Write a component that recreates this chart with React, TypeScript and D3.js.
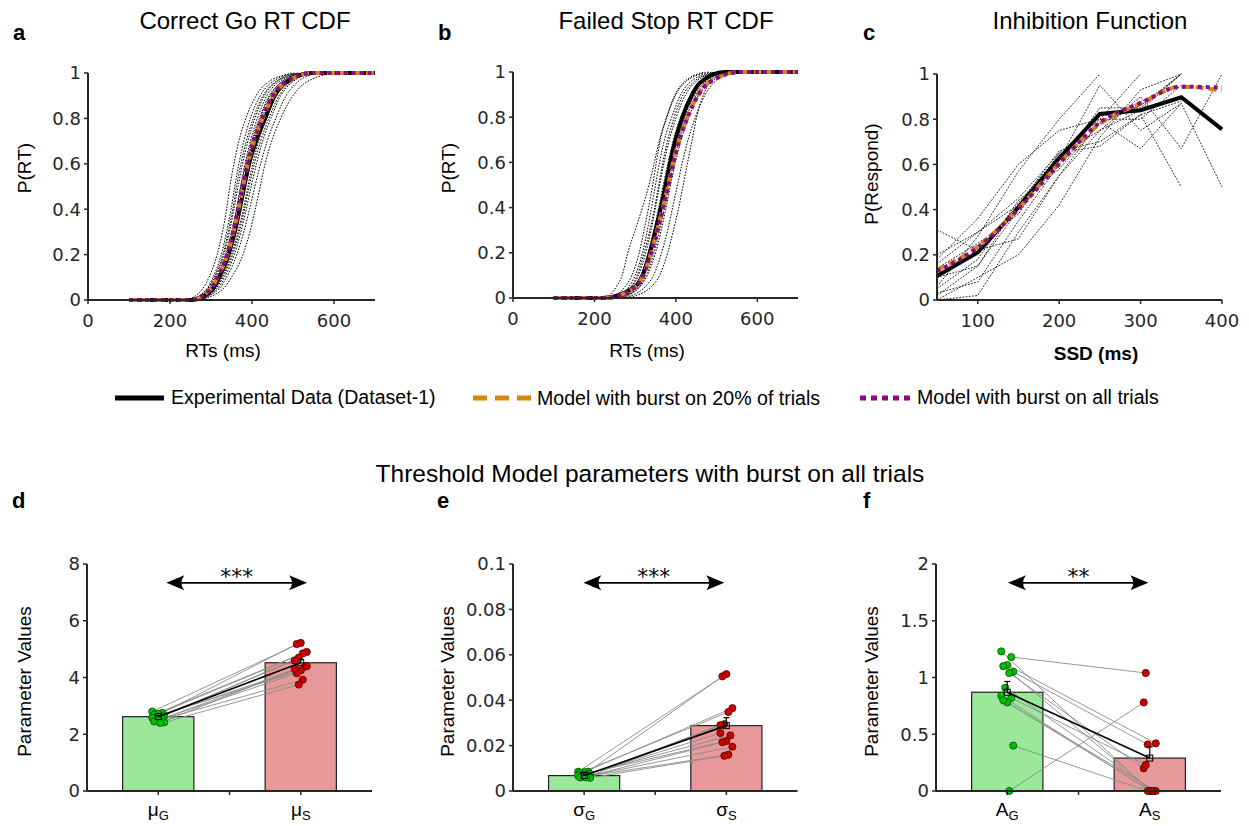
import React from 'react';
import * as d3 from 'd3';

// ---------------- DATA ----------------
// CDF panels: RT (ms) reached at each cumulative-probability level
const cdfLevels = [0, 0.05, 0.1, 0.2, 0.3, 0.4, 0.5, 0.6, 0.7, 0.8, 0.9, 0.95, 1];
const rtStart = 100;
const rtEnd = 700;

const goMeanRT = [255, 305, 320, 343, 358, 370, 381, 393, 410, 432, 455, 477, 545];
const goModel20RT = [250, 300, 316, 340, 355, 367, 378, 390, 405, 426, 452, 476, 550];
const goModelAllRT = [250, 300, 316, 339, 354, 366, 377, 389, 404, 425, 451, 475, 548];
const goSubjectsRT = [
  [240, 280, 295, 315, 328, 338, 346, 356, 368, 385, 410, 432, 500],
  [245, 290, 305, 325, 338, 349, 358, 368, 380, 396, 420, 442, 505],
  [248, 295, 310, 331, 345, 356, 366, 377, 390, 407, 430, 452, 515],
  [250, 298, 313, 335, 350, 362, 372, 383, 396, 413, 436, 458, 520],
  [252, 302, 318, 340, 355, 367, 378, 389, 402, 420, 444, 466, 525],
  [255, 306, 322, 345, 361, 373, 384, 396, 410, 428, 452, 474, 530],
  [258, 310, 327, 350, 366, 379, 390, 402, 416, 435, 460, 482, 540],
  [262, 316, 333, 357, 373, 386, 398, 411, 426, 446, 470, 492, 550],
  [265, 320, 338, 363, 380, 394, 407, 421, 437, 458, 483, 505, 560],
  [270, 330, 350, 378, 395, 408, 420, 432, 448, 470, 500, 525, 600],
  [248, 300, 316, 338, 352, 363, 373, 385, 399, 418, 442, 465, 525],
  [253, 304, 320, 342, 357, 370, 381, 392, 405, 424, 448, 470, 535],
  [244, 292, 308, 329, 342, 353, 362, 373, 386, 403, 427, 450, 512],
  [260, 312, 329, 353, 369, 382, 393, 406, 421, 441, 466, 488, 545],
];

const stopMeanRT = [220, 300, 318, 336, 350, 363, 375, 386, 399, 416, 440, 458, 520];
const stopModel20RT = [225, 302, 320, 339, 354, 368, 381, 393, 408, 428, 455, 478, 560];
const stopModelAllRT = [225, 302, 320, 339, 355, 369, 382, 394, 409, 429, 456, 479, 562];
const stopSubjectsRT = [
  [230, 254, 268, 282, 300, 318, 334, 347, 360, 377, 398, 417, 470],
  [240, 275, 292, 310, 322, 333, 343, 352, 362, 378, 400, 420, 480],
  [245, 285, 300, 318, 330, 340, 350, 360, 372, 390, 412, 432, 490],
  [250, 292, 308, 326, 339, 350, 360, 371, 384, 401, 424, 445, 500],
  [255, 298, 314, 332, 346, 358, 369, 381, 394, 412, 436, 456, 510],
  [258, 305, 322, 341, 355, 367, 378, 390, 404, 422, 446, 468, 520],
  [262, 312, 330, 350, 364, 376, 387, 399, 413, 432, 456, 478, 530],
  [270, 325, 345, 365, 380, 392, 404, 416, 430, 448, 472, 492, 545],
  [280, 340, 360, 380, 394, 407, 418, 429, 440, 451, 468, 483, 540],
  [248, 290, 305, 322, 336, 348, 358, 368, 380, 396, 418, 440, 495],
  [252, 300, 317, 336, 350, 362, 373, 385, 398, 416, 440, 462, 515],
  [260, 310, 327, 346, 360, 372, 383, 395, 408, 426, 450, 472, 525],
];

// Inhibition function
const ssdValues = [50, 100, 150, 200, 250, 300, 350, 400];
const inhibMean = [0.106, 0.21, 0.41, 0.627, 0.823, 0.84, 0.897, 0.755];
const inhibModel20 = [0.133, 0.236, 0.405, 0.605, 0.78, 0.87, 0.944, 0.926];
const inhibModelAll = [0.128, 0.232, 0.402, 0.602, 0.785, 0.872, 0.944, 0.94];
const inhibSubjects: (number | null)[][] = [
  [0.0, 0.02, 0.3, 0.55, 0.75, 0.84, 1.0, null],
  [0.02, 0.15, 0.4, 0.62, 0.95, 0.75, 0.87, 0.5],
  [0.06, 0.28, 0.57, 0.8, 1.0, null, null, null],
  [0.18, 0.36, 0.6, 0.75, 0.8, 1.0, null, null],
  [0.31, 0.22, 0.27, 0.55, 0.79, 0.67, 0.87, null],
  [0.2, 0.3, 0.45, 0.65, 0.68, 0.82, 0.5, null],
  [0.1, 0.15, 0.43, 0.64, 0.75, 0.9, 0.67, 1.0],
  [0.0, 0.1, 0.2, 0.42, 0.72, 0.93, 1.0, null],
  [0.14, 0.25, 0.38, 0.65, 0.8, 0.8, 0.95, null],
  [0.03, 0.08, 0.35, 0.6, 0.85, 0.85, 1.0, null],
  [0.16, 0.3, 0.42, 0.66, 0.7, 0.82, 0.88, null],
  [0.05, 0.18, 0.44, 0.58, 0.78, 0.86, 1.0, null],
];

// Threshold model parameters (per subject, Go / Stop)
const muG = [2.8, 2.75, 2.72, 2.7, 2.65, 2.62, 2.6, 2.58, 2.55, 2.5, 2.45, 2.42, 2.4];
const muS = [5.22, 5.18, 4.9, 4.85, 4.7, 4.6, 4.38, 4.25, 4.15, 4.4, 3.92, 3.75, 4.3];
const muBar = [2.62, 4.52];
const muSem = [0.04, 0.12];

const sigmaG = [0.0085, 0.0085, 0.0083, 0.008, 0.0075, 0.0072, 0.007, 0.0068, 0.0065, 0.0062, 0.006, 0.0058, 0.006];
const sigmaS = [0.0515, 0.0505, 0.0365, 0.0348, 0.0295, 0.0255, 0.0245, 0.022, 0.0215, 0.0195, 0.016, 0.0155, 0.029];
const sigmaBar = [0.0068, 0.0288];
const sigmaSem = [0.0003, 0.0035];

const aG = [1.23, 1.18, 1.11, 1.1, 1.05, 1.04, 0.91, 0.84, 0.82, 0.78, 0.8, 0.4, 0.0];
const aS = [0.0, 1.04, 0.42, 0.0, 0.41, 0.2, 0.0, 0.0, 0.23, 0.0, 0.0, 0.0, 0.78];
const aBar = [0.87, 0.29];
const aSem = [0.095, 0.1];

const probTicks = [0, 0.2, 0.4, 0.6, 0.8, 1];
const rtTicks = [0, 200, 400, 600];
const ssdTicks = [100, 200, 300, 400];
const muTicks = [0, 2, 4, 6, 8];
const sigmaTicks = [0, 0.02, 0.04, 0.06, 0.08, 0.1];
const aTicks = [0, 0.5, 1, 1.5, 2];

const legendLabels = [
  'Experimental Data (Dataset-1)',
  'Model with burst on 20% of trials',
  'Model with burst on all trials',
];

// ---------------- STYLE ----------------
const AX = '#262626';
const TICKFONT = 'DejaVu Sans, Verdana, sans-serif';
const LABFONT = 'Liberation Sans, Arial, Helvetica, sans-serif';
const ORANGE = '#D2880A';
const PURPLE = '#8A0A8A';
const GREEN_BAR = '#9BE89A';
const RED_BAR = '#E89898';

const fmt = (v: number) => String(+v.toFixed(3));

type Pt = [number, number | null];

function Axes({ x, y, xTicks, yTicks }: any) {
  const [x0, x1] = x.range();
  const [yb, yt] = y.range();
  return (
    <g>
      <line x1={x0} x2={x1} y1={yb} y2={yb} stroke={AX} strokeWidth={2} />
      <line x1={x0} x2={x0} y1={yb} y2={yt} stroke={AX} strokeWidth={2} />
      {xTicks.map((t: number) => (
        <g key={'x' + t}>
          <line x1={x(t)} x2={x(t)} y1={yb} y2={yb + 4} stroke={AX} strokeWidth={1.5} />
          <text x={x(t)} y={yb + 27} textAnchor="middle" fontFamily={TICKFONT} fontSize={18} fill={AX}>
            {fmt(t)}
          </text>
        </g>
      ))}
      {yTicks.map((t: number) => (
        <g key={'y' + t}>
          <line x1={x0 - 4} x2={x0} y1={y(t)} y2={y(t)} stroke={AX} strokeWidth={1.5} />
          <text x={x0 - 7} y={y(t)} dy="0.36em" textAnchor="end" fontFamily={TICKFONT} fontSize={18} fill={AX}>
            {fmt(t)}
          </text>
        </g>
      ))}
    </g>
  );
}

function CdfPanel({ box, mean, m20, mAll, subjects, title, titleX, letter, letterX, yLabX, yLabY, xLabX }: any) {
  const x = d3.scaleLinear().domain([0, 700]).range([box[0], box[1]]);
  const y = d3.scaleLinear().domain([0, 1]).range([box[3], box[2]]);
  const line = d3
    .line<[number, number]>()
    .x((d) => x(d[0]))
    .y((d) => y(d[1]))
    .curve(d3.curveMonotoneX);
  const toPts = (rts: number[]) => cdfLevels.map((p, i) => [rts[i], p] as [number, number]);
  const full = (rts: number[]) => [[rtStart, 0] as [number, number], ...toPts(rts), [rtEnd, 1] as [number, number]];
  return (
    <g>
      <text x={titleX} y={29} textAnchor="middle" fontFamily={LABFONT} fontSize={24} fill="#000">
        {title}
      </text>
      <text x={letterX} y={40} fontFamily={LABFONT} fontSize={22} fontWeight="bold" fill="#000">
        {letter}
      </text>
      {subjects.map((s: number[], i: number) => (
        <path key={i} d={line(toPts(s)) || ''} fill="none" stroke="#000" strokeWidth={1} strokeDasharray="1.6,1.4" />
      ))}
      <path d={line(full(mean)) || ''} fill="none" stroke="#000" strokeWidth={4} />
      <path d={line(full(m20)) || ''} fill="none" stroke={ORANGE} strokeWidth={4} strokeDasharray="8,5" />
      <path d={line(full(mAll)) || ''} fill="none" stroke={PURPLE} strokeWidth={4} strokeDasharray="4,4" />
      <Axes x={x} y={y} xTicks={rtTicks} yTicks={probTicks} />
      <text
        transform={`translate(${yLabX},${yLabY}) rotate(-90)`}
        textAnchor="middle"
        dy="0.35em"
        fontFamily={LABFONT}
        fontSize={19}
        fill="#000"
      >
        P(RT)
      </text>
      <text x={xLabX} y={357} textAnchor="middle" fontFamily={LABFONT} fontSize={19} fill="#000">
        RTs (ms)
      </text>
    </g>
  );
}

function InhibPanel() {
  const box = [937, 1222, 74, 300];
  const x = d3.scaleLinear().domain([50, 400]).range([box[0], box[1]]);
  const y = d3.scaleLinear().domain([0, 1]).range([box[3], box[2]]);
  const lin = d3
    .line<Pt>()
    .defined((d) => d[1] != null)
    .x((d) => x(d[0]))
    .y((d) => y(d[1] as number));
  const smooth = d3
    .line<Pt>()
    .x((d) => x(d[0]))
    .y((d) => y(d[1] as number))
    .curve(d3.curveMonotoneX);
  const pts = (v: (number | null)[]) => ssdValues.map((s, i) => [s, v[i]] as Pt);
  return (
    <g>
      <text x={1090} y={29} textAnchor="middle" fontFamily={LABFONT} fontSize={24} fill="#000">
        Inhibition Function
      </text>
      <text x={863} y={40} fontFamily={LABFONT} fontSize={22} fontWeight="bold" fill="#000">
        c
      </text>
      {inhibSubjects.map((s, i) => (
        <path key={i} d={lin(pts(s)) || ''} fill="none" stroke="#111" strokeWidth={0.9} strokeDasharray="1.8,1.4" />
      ))}
      <path d={lin(pts(inhibMean)) || ''} fill="none" stroke="#000" strokeWidth={4} />
      <path d={smooth(pts(inhibModel20)) || ''} fill="none" stroke={ORANGE} strokeWidth={4} strokeDasharray="8,5" />
      <path d={smooth(pts(inhibModelAll)) || ''} fill="none" stroke={PURPLE} strokeWidth={4} strokeDasharray="4,4" />
      <Axes x={x} y={y} xTicks={ssdTicks} yTicks={probTicks} />
      <text
        transform={`translate(871,174) rotate(-90)`}
        textAnchor="middle"
        dy="0.35em"
        fontFamily={LABFONT}
        fontSize={19}
        fill="#000"
      >
        P(Respond)
      </text>
      <text x={1096} y={360} textAnchor="middle" fontFamily={LABFONT} fontSize={19} fontWeight="bold" fill="#000">
        SSD (ms)
      </text>
    </g>
  );
}

function ArrowHead({ x, y, dir }: any) {
  const L = 18;
  const Hh = 7.5;
  const bx = x + dir * L;
  const mx = x + dir * (L - 6);
  return <path d={`M${x},${y} L${bx},${y - Hh} Q${mx},${y} ${bx},${y + Hh} Z`} fill="#000" />;
}

function BarPanel({ box, yMax, ticks, g, s, bars, sems, sym, stars, arrow, starX, letter, letterX, yLabX }: any) {
  const x = d3.scaleLinear().domain([0.5, 2.5]).range([box[0], box[1]]);
  const y = d3.scaleLinear().domain([0, yMax]).range([box[3], box[2]]);
  const jit = (i: number, k: number) => (((i * 5 + k * 3) % 7) - 3) * 2.0;
  const cats = [1, 2];
  const ay = y(yMax * 0.917);
  return (
    <g>
      <text x={letterX} y={508} fontFamily={LABFONT} fontSize={22} fontWeight="bold" fill="#000">
        {letter}
      </text>
      {cats.map((c, k) => (
        <rect
          key={c}
          x={x(c - 0.25)}
          y={y(bars[k])}
          width={x(c + 0.25) - x(c - 0.25)}
          height={y(0) - y(bars[k])}
          fill={k === 0 ? GREEN_BAR : RED_BAR}
          stroke="#222"
          strokeWidth={1.2}
        />
      ))}
      {g.map((v: number, i: number) => (
        <line
          key={'l' + i}
          x1={x(1) + jit(i, 0)}
          y1={y(v)}
          x2={x(2) + jit(i, 1)}
          y2={y(s[i])}
          stroke="#8c8c8c"
          strokeWidth={0.9}
        />
      ))}
      {g.map((v: number, i: number) => (
        <circle key={'g' + i} cx={x(1) + jit(i, 0)} cy={y(v)} r={3.6} fill="#00C000" stroke="#064d06" strokeWidth={0.8} />
      ))}
      {s.map((v: number, i: number) => (
        <circle key={'s' + i} cx={x(2) + jit(i, 1)} cy={y(v)} r={3.6} fill="#CC0000" stroke="#4d0606" strokeWidth={0.8} />
      ))}
      <line x1={x(1)} y1={y(bars[0])} x2={x(2)} y2={y(bars[1])} stroke="#000" strokeWidth={1.6} />
      {cats.map((c, k) => (
        <g key={'e' + c}>
          <line x1={x(c)} x2={x(c)} y1={y(bars[k])} y2={y(bars[k] + sems[k])} stroke="#000" strokeWidth={1.2} />
          <line x1={x(c) - 3} x2={x(c) + 3} y1={y(bars[k] + sems[k])} y2={y(bars[k] + sems[k])} stroke="#000" strokeWidth={1.2} />
          <rect x={x(c) - 3} y={y(bars[k]) - 3} width={6} height={6} fill="none" stroke="#000" strokeWidth={1} />
        </g>
      ))}
      <line x1={x(arrow[0]) + 8} x2={x(arrow[1]) - 8} y1={ay} y2={ay} stroke="#000" strokeWidth={1.6} />
      <ArrowHead x={x(arrow[0])} y={ay} dir={1} />
      <ArrowHead x={x(arrow[1])} y={ay} dir={-1} />
      <text x={x(starX)} y={ay + 1} textAnchor="middle" fontFamily={TICKFONT} fontSize={22} fill="#000">
        {stars}
      </text>
      <line x1={box[0]} x2={box[1]} y1={box[3]} y2={box[3]} stroke={AX} strokeWidth={2} />
      <line x1={box[0]} x2={box[0]} y1={box[3]} y2={box[2]} stroke={AX} strokeWidth={2} />
      {[1, 1.5, 2].map((t) => (
        <line key={t} x1={x(t)} x2={x(t)} y1={box[3]} y2={box[3] + 4} stroke={AX} strokeWidth={1.5} />
      ))}
      {ticks.map((t: number) => (
        <g key={'y' + t}>
          <line x1={box[0] - 4} x2={box[0]} y1={y(t)} y2={y(t)} stroke={AX} strokeWidth={1.5} />
          <text x={box[0] - 7} y={y(t)} dy="0.36em" textAnchor="end" fontFamily={TICKFONT} fontSize={18} fill={AX}>
            {fmt(t)}
          </text>
        </g>
      ))}
      {['G', 'S'].map((sub, k) => (
        <text key={sub} x={x(k + 1)} y={816} textAnchor="middle" fontFamily={LABFONT} fontSize={19} fill="#000">
          {sym}
          <tspan fontSize={13} dy={4}>
            {sub}
          </tspan>
        </text>
      ))}
      <text
        transform={`translate(${yLabX},${(box[2] + box[3]) / 2 + 4}) rotate(-90)`}
        textAnchor="middle"
        dy="0.35em"
        fontFamily={LABFONT}
        fontSize={19}
        fill="#000"
      >
        Parameter Values
      </text>
    </g>
  );
}

function Legend() {
  const y = 398;
  return (
    <g fontFamily={LABFONT} fontSize={19.6}>
      <line x1={115} x2={164} y1={y} y2={y} stroke="#000" strokeWidth={5} />
      <text x={171} y={y + 6}>{legendLabels[0]}</text>
      <line x1={473} x2={531} y1={y} y2={y} stroke={ORANGE} strokeWidth={5} strokeDasharray="14,8" />
      <text x={537} y={y + 7}>{legendLabels[1]}</text>
      <line x1={860} x2={911} y1={y} y2={y} stroke={PURPLE} strokeWidth={5} strokeDasharray="6,5" />
      <text x={917} y={y + 6}>{legendLabels[2]}</text>
    </g>
  );
}

export default function App() {
  return (
    <svg
      width={1249}
      height={826}
      viewBox="0 0 1249 826"
      style={{ position: 'absolute', left: 0, top: 0, background: '#fff' }}
    >
      <rect x={0} y={0} width={1249} height={826} fill="#fff" />
      <CdfPanel
        box={[88, 375, 73, 300]}
        mean={goMeanRT}
        m20={goModel20RT}
        mAll={goModelAllRT}
        subjects={goSubjectsRT}
        title="Correct Go RT CDF"
        titleX={245}
        letter="a"
        letterX={13}
        yLabX={24}
        yLabY={168}
        xLabX={223}
      />
      <CdfPanel
        box={[513, 798, 72, 298]}
        mean={stopMeanRT}
        m20={stopModel20RT}
        mAll={stopModelAllRT}
        subjects={stopSubjectsRT}
        title="Failed Stop RT CDF"
        titleX={666}
        letter="b"
        letterX={438}
        yLabX={448}
        yLabY={168}
        xLabX={647}
      />
      <InhibPanel />
      <Legend />
      <text x={650} y={482} textAnchor="middle" fontFamily={LABFONT} fontSize={24.5} fill="#000">
        Threshold Model parameters with burst on all trials
      </text>
      <BarPanel
        box={[87, 372, 564, 791]}
        yMax={8}
        ticks={muTicks}
        g={muG}
        s={muS}
        bars={muBar}
        sems={muSem}
        sym={'\u03bc'}
        stars="***"
        arrow={[1.057, 2.044]}
        starX={1.55}
        letter="d"
        letterX={12}
        yLabX={24}
      />
      <BarPanel
        box={[513, 797.5, 564, 791]}
        yMax={0.1}
        ticks={sigmaTicks}
        g={sigmaG}
        s={sigmaS}
        bars={sigmaBar}
        sems={sigmaSem}
        sym={'\u03c3'}
        stars="***"
        arrow={[0.995, 1.985]}
        starX={1.49}
        letter="e"
        letterX={437}
        yLabX={447}
      />
      <BarPanel
        box={[936, 1221, 564, 791]}
        yMax={2}
        ticks={aTicks}
        g={aG}
        s={aS}
        bars={aBar}
        sems={aSem}
        sym="A"
        stars="**"
        arrow={[1.005, 1.99]}
        starX={1.5}
        letter="f"
        letterX={863}
        yLabX={871}
      />
    </svg>
  );
}
